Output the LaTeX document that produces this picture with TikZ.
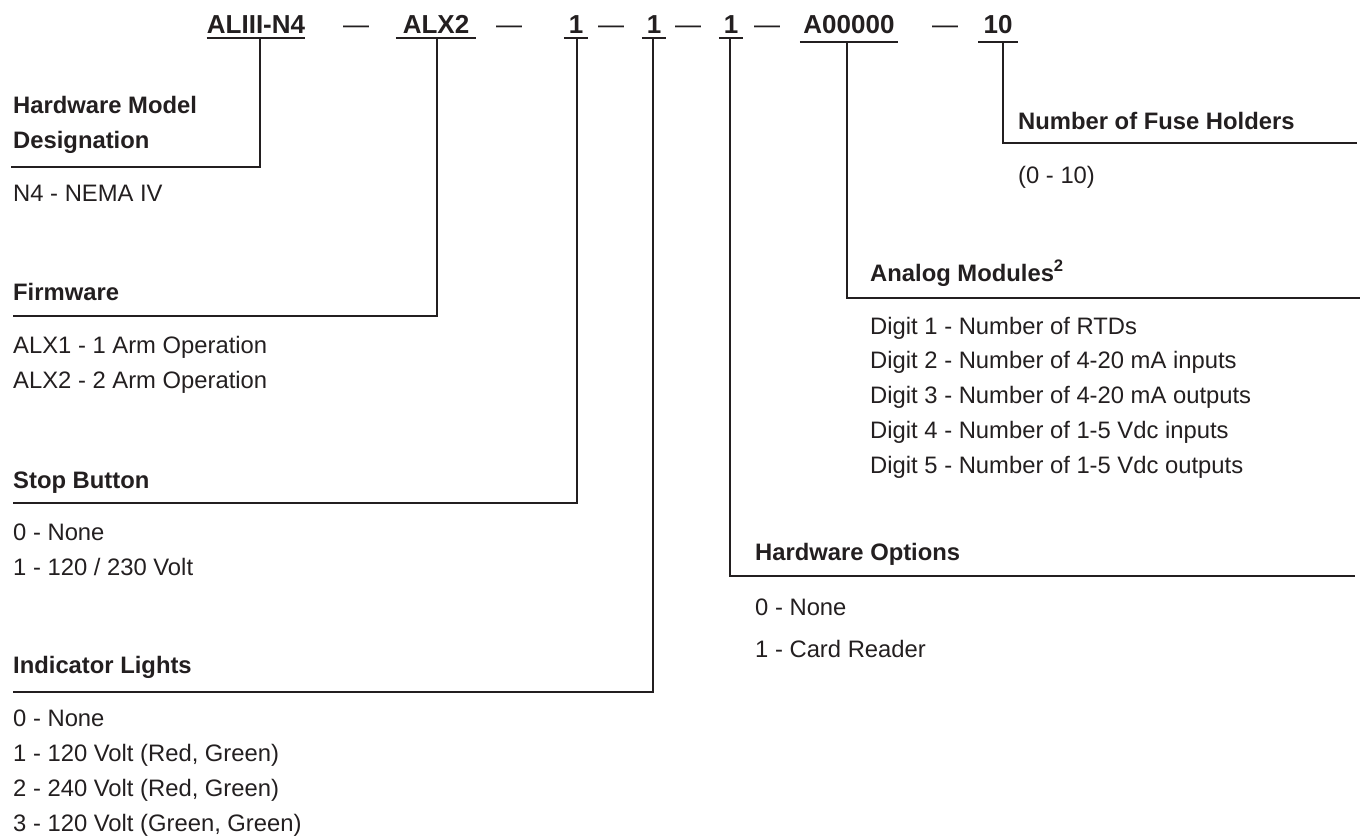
\documentclass[tikz,border=0pt]{standalone}
\usepackage{fontspec}
\setmainfont{Liberation Sans}
\definecolor{ink}{HTML}{231F20}

\begin{document}
\begin{tikzpicture}[x=1pt,y=-1pt,
  lead/.style={draw=ink, line width=2.4pt},
  code/.style={font=\fontsize{26}{30}\selectfont\bfseries, text=ink, inner sep=0pt, text height=18pt, text depth=5pt, anchor=base},
  sep/.style={font=\fontsize{26}{30}\selectfont, text=ink, inner sep=0pt, anchor=base},
  head/.style={font=\fontsize{23.8}{35}\selectfont\bfseries, text=ink, inner sep=0pt, anchor=base west, align=left},
  items/.style={font=\fontsize{23.8}{34.7}\selectfont, text=ink, inner sep=0pt, anchor=base west, align=left}]
\useasboundingbox (0,0) rectangle (1365,836);

% part number (multi-line nodes sit on their last baseline)
\node[code] (cModel) at (256,33) {ALIII-N4};
\node[sep] (d1) at (356,33) {—};
\node[code, minimum width=80pt] (cFirm) at (436,33) {ALX2};
\node[sep] (d2) at (509,33) {—};
\node[code, minimum width=24pt] (cStop) at (576,33) {1};
\node[sep] (d3) at (611,33) {—};
\node[code, minimum width=24pt] (cLight) at (654,33) {1};
\node[sep] (d4) at (688,33) {—};
\node[code, minimum width=24pt] (cOpt) at (731,33) {1};
\node[sep] (d5) at (767,33) {—};
\node[code, minimum width=98pt, text depth=9pt] (cAnalog) at (849,33) {A00000};
\node[sep] (d6) at (945,33) {—};
\node[code, minimum width=39pt, text depth=9pt] (cFuse) at (998,33) {10};

% left column
\node[head] (hModel) at (13,148) {Hardware Model\\Designation};
\node[items] (iModel) at (13,201) {N4 - NEMA IV};
\node[head] (hFirm) at (13,300) {Firmware};
\node[items] (iFirm) at (13,388) {ALX1 - 1 Arm Operation\\ALX2 - 2 Arm Operation};
\node[head] (hStop) at (13,488) {Stop Button};
\node[items] (iStop) at (13,575) {0 - None\\1 - 120 / 230 Volt};
\node[head] (hLight) at (13,673) {Indicator Lights};
\node[items] (iLight) at (13,831) {0 - None\\1 - 120 Volt (Red, Green)\\2 - 240 Volt (Red, Green)\\3 - 120 Volt (Green, Green)};

% right column
\node[head] (hFuse) at (1018,129) {Number of Fuse Holders};
\node[items] (iFuse) at (1018,183) {(0 - 10)};
\node[head] (hAnalog) at (870,281) {Analog Modules\textsuperscript{2}};
\node[items] (iAnalog) at (870,473) {Digit 1 - Number of RTDs\\Digit 2 - Number of 4-20 mA inputs\\Digit 3 - Number of 4-20 mA outputs\\Digit 4 - Number of 1-5 Vdc inputs\\Digit 5 - Number of 1-5 Vdc outputs};
\node[head] (hOpt) at (755,560) {Hardware Options};
\node[items, font=\fontsize{23.8}{42}\selectfont] (iOpt) at (755,657) {0 - None\\1 - Card Reader};

% knees and line ends
\coordinate (kModel) at (260,167);
\coordinate (kFirm) at (437,316);
\coordinate (kStop) at (577,503);
\coordinate (kLight) at (653,692);
\coordinate (kOpt) at (730,576);
\coordinate (kAnalog) at (847,298);
\coordinate (kFuse) at (1003,143);
\coordinate (eOpt) at (1355,576);
\coordinate (eAnalog) at (1360,298);
\coordinate (eFuse) at (1357,143);

% underlines
\foreach \c in {cModel,cFirm,cStop,cLight,cOpt,cAnalog,cFuse}
  \draw[lead] (\c.south west) -- (\c.south east);

% leaders
\draw[lead] (kModel |- cModel.south) -- (kModel) -- ([xshift=-2pt]kModel -| hModel.west);
\draw[lead] (kFirm |- cFirm.south) -- (kFirm) -- (kFirm -| hFirm.west);
\draw[lead] (kStop |- cStop.south) -- (kStop) -- (kStop -| hStop.west);
\draw[lead] (kLight |- cLight.south) -- (kLight) -- (kLight -| hLight.west);
\draw[lead] (kOpt |- cOpt.south) -- (kOpt) -- (eOpt);
\draw[lead] (kAnalog |- cAnalog.south) -- (kAnalog) -- (eAnalog);
\draw[lead] (kFuse |- cFuse.south) -- (kFuse) -- (eFuse);
\end{tikzpicture}
\end{document}
